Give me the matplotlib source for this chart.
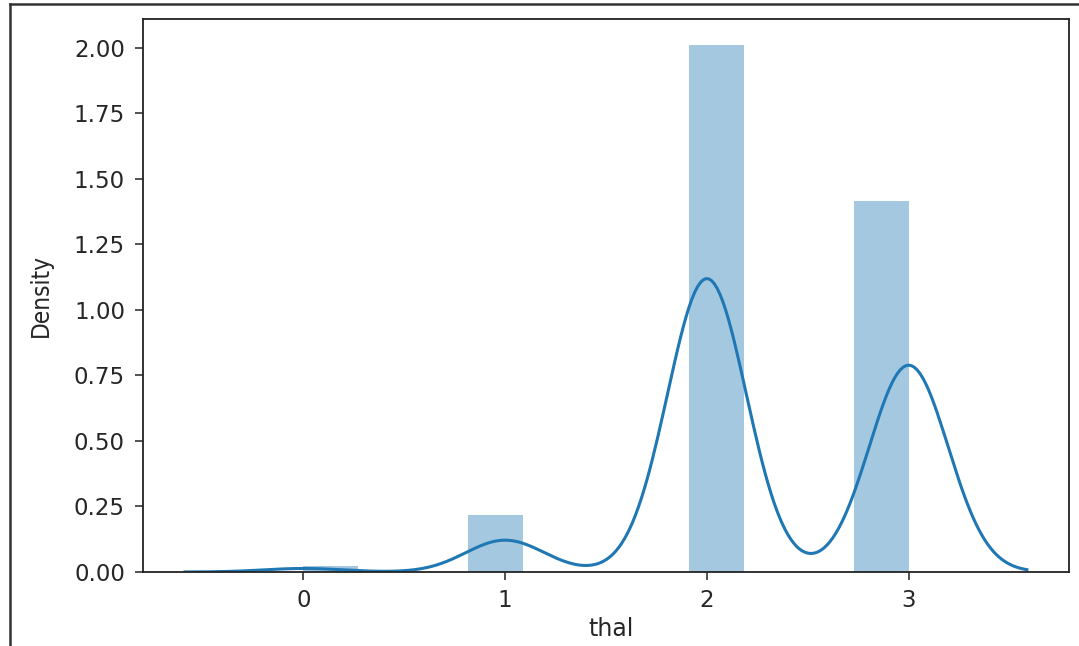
import numpy as np
import matplotlib
matplotlib.use("Agg")
import matplotlib.pyplot as plt
from matplotlib.lines import Line2D

# thal value counts (heart dataset, n = 303)
thal_values = [0, 1, 2, 3]
thal_counts = [2, 18, 166, 117]
n_bins = 11

x_label = "thal"
y_label = "Density"
y_ticks = [0.00, 0.25, 0.50, 0.75, 1.00, 1.25, 1.50, 1.75, 2.00]

# expand counts into observations
obs = np.repeat(thal_values, thal_counts).astype(float)

# gaussian kde, scott bandwidth, cut = 3 (like seaborn distplot)
bw = obs.std(ddof=1) * len(obs) ** (-1 / 5)
grid = np.linspace(obs.min() - 3 * bw, obs.max() + 3 * bw, 300)
kde = np.exp(-0.5 * ((grid[:, None] - obs[None, :]) / bw) ** 2).sum(axis=1)
kde /= len(obs) * bw * np.sqrt(2 * np.pi)

fig = plt.figure(figsize=(10.79, 6.46), dpi=100, facecolor="white")
ax = fig.add_axes([143 / 1079, 1 - 572 / 646, 926 / 1079, 553 / 646])

ax.hist(obs, bins=n_bins, density=True, color="#1f77b4", alpha=0.4)
ax.plot(grid, kde, color="#1f77b4", lw=2.2)

ax.set_yticks(y_ticks)
ax.set_yticklabels([f"{t:.2f}" for t in y_ticks])
ax.set_xticks(thal_values)

ax.tick_params(axis="both", labelsize=16.5, length=6, width=1.2, color="#333333",
               labelcolor="#262626")
ax.tick_params(axis="y", pad=7)
ax.tick_params(axis="x", pad=6)
for sp in ax.spines.values():
    sp.set_linewidth(1.3)
    sp.set_color("#222222")

ax.set_xlabel(x_label, fontsize=17, color="#262626")
ax.xaxis.set_label_coords(0.505, -45 / 553)
ax.set_ylabel(y_label, fontsize=17.5, color="#262626", fontstretch="condensed")
ax.yaxis.set_label_coords(-90 / 926, 0.5)

# screenshot frame
fig.add_artist(Line2D([10 / 1079, 10 / 1079], [0, 1 - 4 / 646],
                      transform=fig.transFigure, color="#333333", lw=1.8))
fig.add_artist(Line2D([10 / 1079, 1], [1 - 4 / 646, 1 - 4 / 646],
                      transform=fig.transFigure, color="#333333", lw=1.8))

fig.savefig("out.png", dpi=100)
